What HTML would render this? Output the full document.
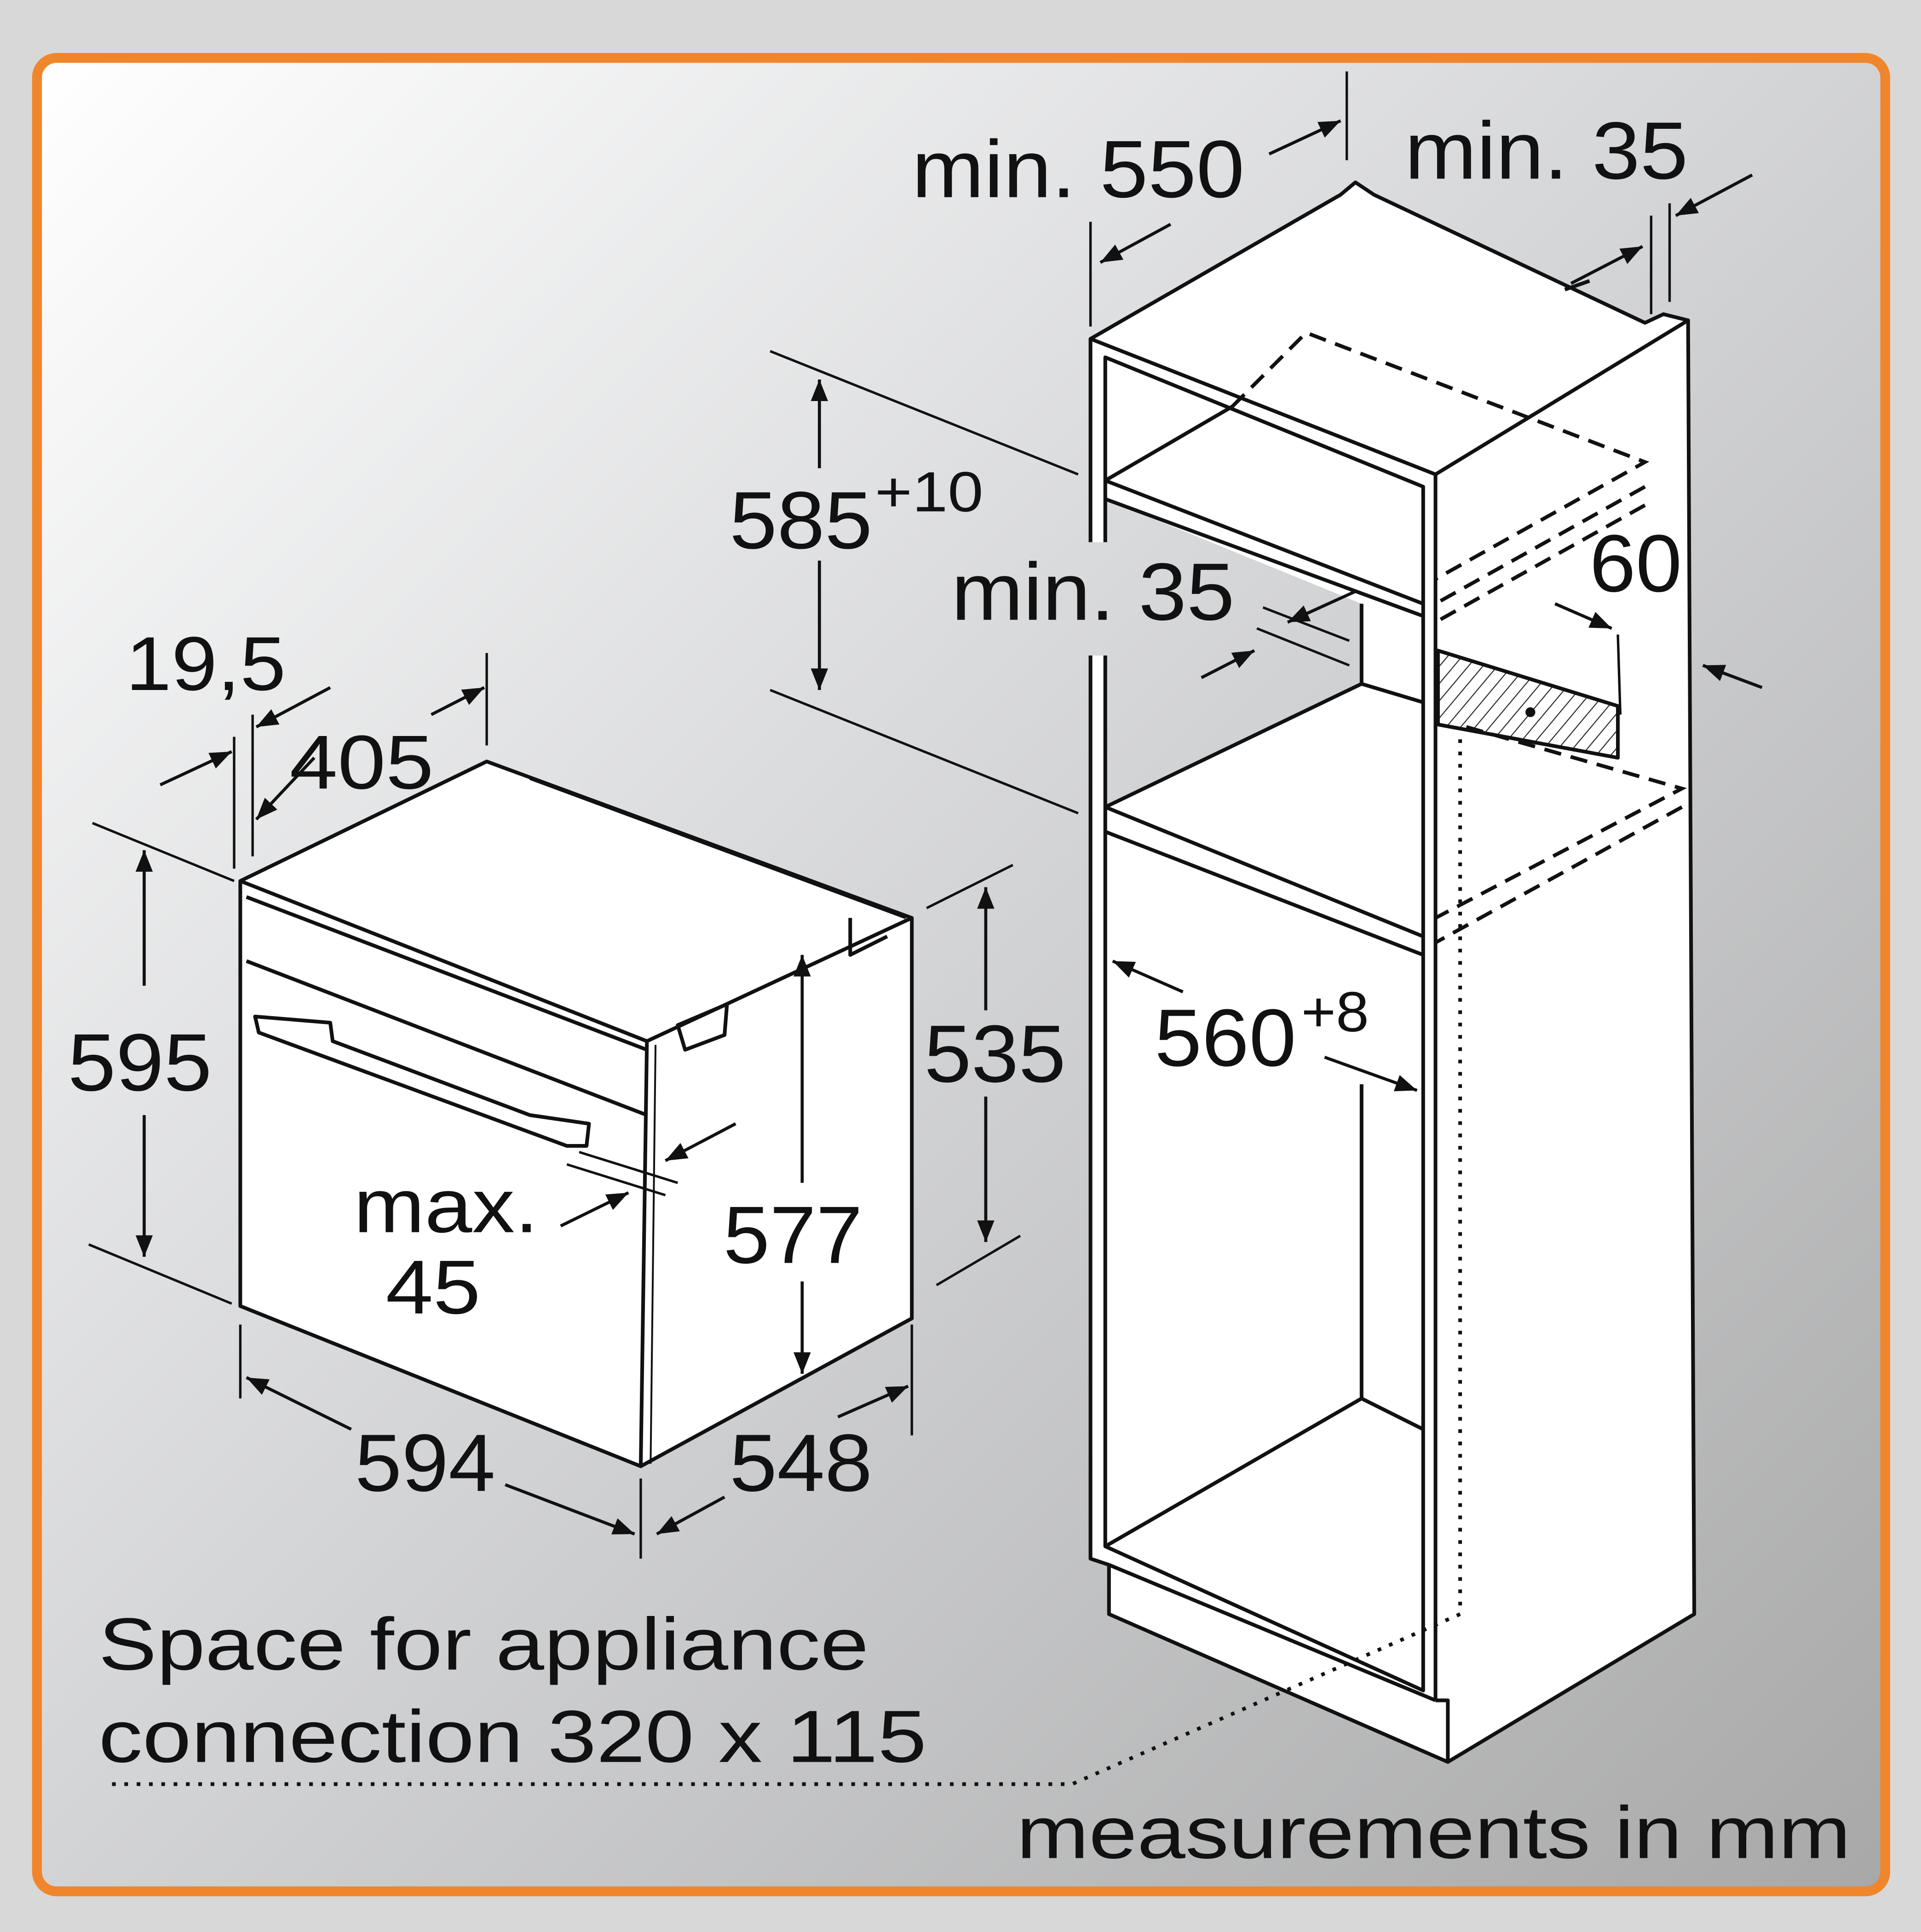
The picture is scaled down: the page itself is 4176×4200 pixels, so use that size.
<!DOCTYPE html>
<html><head><meta charset="utf-8"><style>
html,body{margin:0;padding:0;width:4176px;height:4200px;overflow:hidden;background:#d6d6d6}
svg{display:block}
text{font-family:"Liberation Sans",sans-serif;fill:#111}
</style></head><body>
<svg width="4176" height="4200" viewBox="0 0 1559 1568" xmlns="http://www.w3.org/2000/svg">
<defs>
<linearGradient id="bg" gradientUnits="userSpaceOnUse" x1="30" y1="47" x2="1530" y2="1535">
<stop offset="0" stop-color="#ffffff"/><stop offset="0.5" stop-color="#d2d3d5"/><stop offset="1" stop-color="#a8a8a8"/>
</linearGradient>
<pattern id="hatch" width="9" height="9" patternUnits="userSpaceOnUse" patternTransform="rotate(40)">
<rect width="9" height="9" fill="#fff"/><line x1="0" y1="0" x2="0" y2="9" stroke="#222" stroke-width="1.6"/></pattern>
<marker id="ar" viewBox="0 0 10 10" refX="10" refY="5" markerWidth="7" markerHeight="7" orient="auto-start-reverse"><path d="M0,1 L10,5 L0,9 z" fill="#111"/></marker>
</defs>
<rect width="1559" height="1568" fill="#d8d8d8"/>
<rect x="30" y="47" width="1500" height="1488" rx="16" fill="url(#bg)" stroke="#f0862c" stroke-width="8"/>
<g fill="#fff" stroke="none">
<path d="M195,715 L395,618 L740,745 L740,1070 L520,1190 L195,1060 Z"/>
<path d="M885,275 L1088,158 L1100,148 L1115,158 L1335,262 L1350,255 L1370,260 L1375,1310 L1175,1430 L900,1310 L900,1270 L885,1265 Z"/>
</g>
<path d="M897,405 L1105,490 L1105,555 L897,655 Z" fill="url(#bg)"/>
<g fill="none" stroke="#111" stroke-width="3" stroke-linejoin="round">
<path d="M195,715 L395,618 L740,745 L740,1070 L520,1190 L195,1060 Z"/>
<path d="M195,715 L525,845 L740,745"/>
<path d="M525,845 L520,1190"/>
<path d="M532,848 L528,1188" stroke-width="1.5"/>
<path d="M200,780 L525,905"/>
<path d="M200,728 L525,852"/>
<path d="M207,825 L268,830 L270,845 L430,905 L478,912 L476,930 L460,930 L210,838 Z"/>
<path d="M690,745 L690,775 L720,760"/>
<path d="M550,832 L590,815 L588,840 L556,852 Z"/>
<path d="M430,632 L735,745" stroke-width="2"/>
<path d="M885,275 L1088,158 L1100,148 L1115,158 L1335,262 L1350,255 L1370,260 L1375,1310 L1175,1430 L900,1310 L900,1270 L885,1265 Z"/>
<path d="M885,275 L1165,385 L1370,260"/>
<path d="M1165,385 L1165,1380"/>
<path d="M897,290 L1155,395 L1155,1372 L897,1255 Z"/>
<path d="M1165,1380 L1175,1380 L1175,1430"/>
<path d="M900,1270 L1165,1380"/>
<path d="M897,390 L1155,490"/>
<path d="M897,405 L1155,500"/>
<path d="M897,390 L1000,330"/>
<path d="M1105,490 L1105,555"/>
<path d="M897,655 L1105,555 L1155,570"/>
<path d="M897,655 L1155,760"/>
<path d="M897,675 L1155,775"/>
<path d="M1105,880 L1105,1135"/>
<path d="M897,1255 L1105,1135 L1155,1160"/>
<path d="M1270,235 L1290,228"/>
<path d="M1167,528 L1313,573 L1313,615 L1167,588 Z" fill="url(#hatch)"/>
</g>
<circle cx="1242" cy="578" r="4" fill="#111"/>
<g fill="none" stroke="#111" stroke-width="3" stroke-dasharray="14,8">
<path d="M1000,330 L1060,270 L1335,375 L1165,470"/>
<path d="M1335,395 L1165,490"/>
<path d="M1335,410 L1165,505"/>
<path d="M1190,590 L1365,640 L1165,745"/>
<path d="M1365,655 L1165,765"/>
</g>
<g fill="none" stroke="#111" stroke-width="3" stroke-dasharray="3,7">
<path d="M1185,600 L1185,1310 L870,1448 L85,1448"/>
</g>
<rect x="879" y="440" width="25" height="92" fill="url(#bg)"/>
<g stroke="#111" stroke-width="2" fill="none">
<line x1="190" y1="598" x2="190" y2="705"/><line x1="205" y1="580" x2="205" y2="695"/>
<line x1="395" y1="530" x2="395" y2="605"/>
<line x1="75" y1="668" x2="190" y2="715"/><line x1="72" y1="1010" x2="188" y2="1058"/>
<line x1="752" y1="737" x2="822" y2="702"/><line x1="760" y1="1043" x2="828" y2="1003"/>
<line x1="195" y1="1075" x2="195" y2="1135"/><line x1="520" y1="1200" x2="520" y2="1265"/>
<line x1="740" y1="1075" x2="740" y2="1165"/>
<line x1="470" y1="935" x2="550" y2="960"/><line x1="460" y1="945" x2="540" y2="970"/>
<line x1="625" y1="285" x2="875" y2="385"/><line x1="625" y1="560" x2="875" y2="660"/>
<line x1="885" y1="180" x2="885" y2="265"/><line x1="1093" y1="58" x2="1093" y2="130"/>
<line x1="1340" y1="175" x2="1340" y2="255"/><line x1="1355" y1="165" x2="1355" y2="245"/>
<line x1="1313" y1="515" x2="1315" y2="580"/>
<line x1="1020" y1="510" x2="1095" y2="540"/>
<line x1="1025" y1="493" x2="1095" y2="520"/>
</g>
<g stroke="#111" stroke-width="2.5" fill="none" marker-end="url(#ar)">
<line x1="130" y1="637" x2="188" y2="610"/>
<line x1="268" y1="558" x2="208" y2="590"/>
<line x1="255" y1="615" x2="208" y2="665"/>
<line x1="350" y1="580" x2="393" y2="558"/>
<line x1="117" y1="800" x2="117" y2="690"/>
<line x1="117" y1="905" x2="117" y2="1020"/>
<line x1="800" y1="820" x2="800" y2="720"/>
<line x1="800" y1="890" x2="800" y2="1008"/>
<line x1="651" y1="960" x2="651" y2="775"/>
<line x1="651" y1="1040" x2="651" y2="1115"/>
<line x1="285" y1="1160" x2="200" y2="1118"/>
<line x1="410" y1="1205" x2="515" y2="1245"/>
<line x1="588" y1="1215" x2="533" y2="1245"/>
<line x1="680" y1="1150" x2="737" y2="1125"/>
<line x1="597" y1="912" x2="540" y2="942"/>
<line x1="455" y1="995" x2="510" y2="968"/>
<line x1="665" y1="380" x2="665" y2="308"/>
<line x1="665" y1="455" x2="665" y2="560"/>
<line x1="1030" y1="125" x2="1088" y2="98"/>
<line x1="950" y1="182" x2="893" y2="213"/>
<line x1="1275" y1="230" x2="1333" y2="200"/>
<line x1="1422" y1="142" x2="1360" y2="175"/>
<line x1="1100" y1="480" x2="1045" y2="505"/>
<line x1="975" y1="550" x2="1018" y2="528"/>
<line x1="1262" y1="490" x2="1308" y2="510"/>
<line x1="1430" y1="558" x2="1382" y2="540"/>
<line x1="960" y1="805" x2="903" y2="780"/>
<line x1="1075" y1="858" x2="1150" y2="885"/>
</g>
<g font-size="66">
<text x="102" y="560" font-size="62" textLength="130" lengthAdjust="spacingAndGlyphs">19,5</text>
<text x="235" y="640" font-size="62" textLength="117" lengthAdjust="spacingAndGlyphs">405</text>
<text x="55" y="885" textLength="117" lengthAdjust="spacingAndGlyphs">595</text>
<text x="750" y="878" textLength="115" lengthAdjust="spacingAndGlyphs">535</text>
<text x="587" y="1025" textLength="113" lengthAdjust="spacingAndGlyphs">577</text>
<text x="287" y="1000" font-size="62" textLength="150" lengthAdjust="spacingAndGlyphs">max.</text>
<text x="313" y="1066" font-size="62" textLength="77" lengthAdjust="spacingAndGlyphs">45</text>
<text x="288" y="1210" textLength="114" lengthAdjust="spacingAndGlyphs">594</text>
<text x="592" y="1210" textLength="116" lengthAdjust="spacingAndGlyphs">548</text>
<text x="592" y="445" textLength="116" lengthAdjust="spacingAndGlyphs">585</text>
<text x="710" y="415" font-size="46" textLength="88" lengthAdjust="spacingAndGlyphs">+10</text>
<text x="740" y="160" textLength="270" lengthAdjust="spacingAndGlyphs">min. 550</text>
<text x="1140" y="145" textLength="230" lengthAdjust="spacingAndGlyphs">min. 35</text>
<text x="772" y="503" textLength="230" lengthAdjust="spacingAndGlyphs">min. 35</text>
<text x="1290" y="480" textLength="75" lengthAdjust="spacingAndGlyphs">60</text>
<text x="937" y="865" textLength="115" lengthAdjust="spacingAndGlyphs">560</text>
<text x="1056" y="837" font-size="46" textLength="55" lengthAdjust="spacingAndGlyphs">+8</text>
<text x="80" y="1355" font-size="60" textLength="625" lengthAdjust="spacingAndGlyphs">Space for appliance</text>
<text x="80" y="1430" font-size="60" textLength="672" lengthAdjust="spacingAndGlyphs">connection 320 x 115</text>
<text x="825" y="1508" font-size="60" textLength="677" lengthAdjust="spacingAndGlyphs">measurements in mm</text>
</g>
</svg>
</body></html>
